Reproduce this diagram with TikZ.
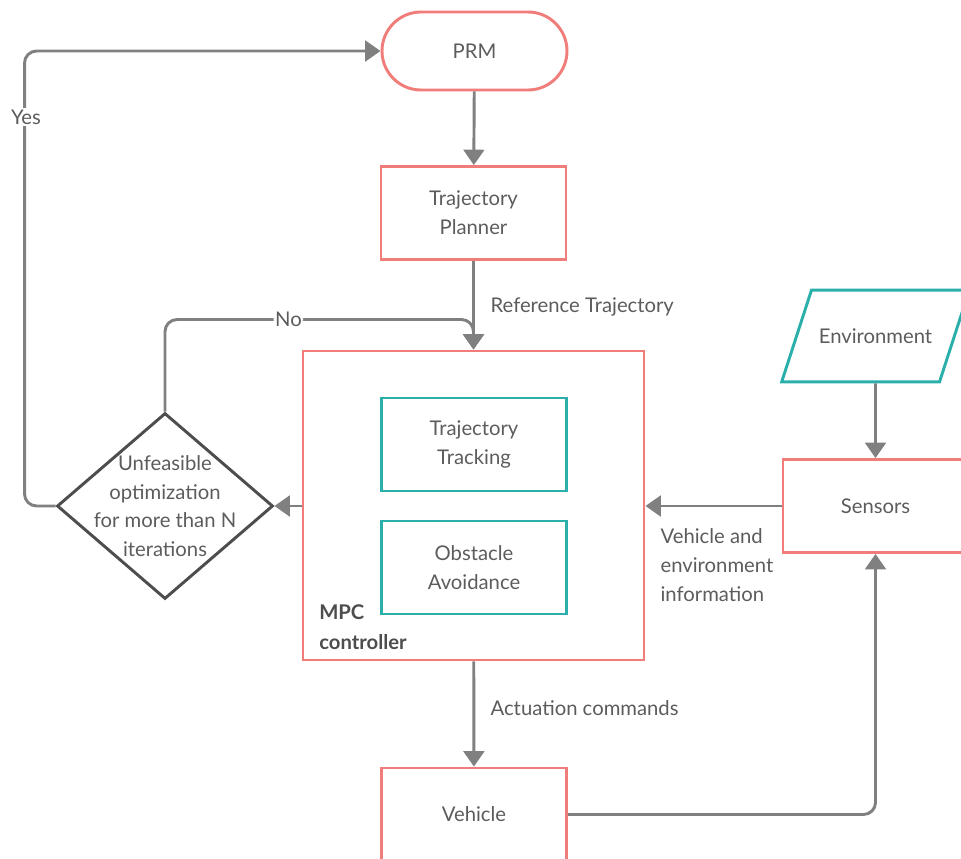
\documentclass[tikz,border=0pt]{standalone}
\usepackage{fontspec}
\setmainfont{Lato}
\usetikzlibrary{arrows.meta,positioning,shapes.geometric,calc}
\usepackage{xcolor}
\definecolor{boxred}{HTML}{F07D7A}
\definecolor{boxteal}{HTML}{2AAFAA}
\definecolor{flowgray}{HTML}{808080}
\definecolor{txtgray}{HTML}{5C5C5C}
\definecolor{darkline}{HTML}{4D4D4D}

\begin{document}
\begin{tikzpicture}[x=0.75pt, y=-0.75pt,
    font=\fontsize{15.2}{21.5}\selectfont,
    block/.style={draw=boxred, line width=2.2pt, text=txtgray, align=center,
      minimum width=138.75pt, minimum height=69.75pt},
    subblock/.style={block, draw=boxteal},
    flow/.style={draw=flowgray, line width=2.2pt, rounded corners=9pt,
      -{Triangle[length=11.5pt,width=15.5pt]}},
    lbl/.style={text=txtgray, inner sep=1pt}]
  \useasboundingbox (0,0) rectangle (961,859);

  % main blocks
  \node[block, rounded corners=29.25pt, minimum height=58.5pt] (prm) at (474.5,51) {PRM};
  \node[block] (planner) at (473.5,213) {Trajectory\\Planner};
  \node[block, minimum width=255.75pt, minimum height=231.75pt] (mpc) at (473.5,505.5) {};
  \node[subblock] (tracking) at (474,444.5) {Trajectory\\Tracking};
  \node[subblock] (avoid) at (474,567.5) {Obstacle\\Avoidance};
  \node[anchor=west, align=left, text=darkline, inner sep=0pt,
    font=\fontsize{15.2}{22.5}\selectfont\bfseries] (mpclabel) at (319,627) {MPC\\controller};
  \node[block] (vehicle) at (474,814.5) {Vehicle};
  \node[block] (sensors) at (875.5,506) {Sensors};
  \node[draw=boxteal, line width=2.2pt, text=txtgray, trapezium,
    trapezium left angle=72, trapezium right angle=108,
    inner xsep=5.5pt, inner ysep=28.75pt] (env) at (875.5,336) {Environment};

  % decision
  \node[diamond, draw=darkline, line width=2.2pt, minimum width=162pt,
    minimum height=139.5pt, inner sep=0pt] (check) at (165,506) {};
  \node[lbl, align=center] (checktext) at (check) {Unfeasible\\optimization\\for more than N\\iterations};

  % connectors
  \draw[flow] (prm) -- (planner);
  \draw[flow] (planner) -- (mpc);
  \draw[flow] (mpc) -- (vehicle);
  \draw[flow] (env) -- (sensors);
  \draw[flow] (sensors) -- (mpc.east |- sensors.west);
  \draw[flow] (mpc.west |- check.east) -- (check.east);
  \draw[flow] (vehicle.east) -| (sensors.south);
  \draw[flow] (check.north) -- ++(0,-92) -| (mpc.north)
    node[lbl, fill=white, pos=0.2] (no) {No};
  \draw[flow] (check.west) -- ++(-31,0) |- (prm.west);
  \node[lbl, fill=white] (yes) at (26,117) {Yes};

  % edge labels
  \node[lbl, anchor=west] (reflabel) at (489,307) {Reference Trajectory};
  \node[lbl, anchor=west] (actlabel) at (489,708) {Actuation commands};
  \node[lbl, anchor=west, align=left] (infolabel) at (659,565) {Vehicle and\\environment\\information};
\end{tikzpicture}
\end{document}
